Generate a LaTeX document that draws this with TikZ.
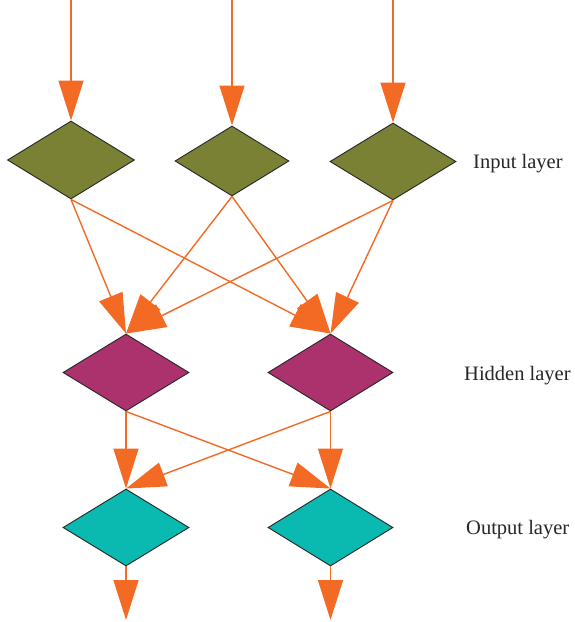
\documentclass[tikz,border=0pt]{standalone}
\usepackage{fontspec}
\setmainfont{Liberation Serif}
\usetikzlibrary{shapes.geometric,arrows.meta}
\definecolor{olivec}{RGB}{122,128,52}
\definecolor{magc}{RGB}{172,50,110}
\definecolor{tealc}{RGB}{10,185,175}
\definecolor{orc}{RGB}{242,106,36}
\begin{document}
\begin{tikzpicture}[x=1pt,y=-1pt,
  dia/.style={diamond,draw=black!85,line width=0.9pt,inner sep=0pt},
  arr/.style={draw=orc,line width=1.4pt,-{Triangle[length=40pt,width=25pt]}},
  lbl/.style={font=\fontsize{20.5pt}{24pt}\selectfont,text=black!85,inner sep=0pt}]
\useasboundingbox (0,0) rectangle (575,622);
\node[dia,fill=olivec,minimum width=127pt,minimum height=78pt] (d1) at (71,160) {};
\node[dia,fill=olivec,minimum width=114pt,minimum height=70pt] (d2) at (232,161) {};
\node[dia,fill=olivec,minimum width=126pt,minimum height=77pt] (d3) at (393,161.5) {};
\node[dia,fill=magc,minimum width=126pt,minimum height=77pt] (h1) at (126,372.5) {};
\node[dia,fill=magc,minimum width=125pt,minimum height=77pt] (h2) at (330.5,372.5) {};
\node[dia,fill=tealc,minimum width=126pt,minimum height=77pt] (o1) at (126,527.5) {};
\node[dia,fill=tealc,minimum width=125pt,minimum height=77pt] (o2) at (330.5,527.5) {};
\coordinate (s1) at (71,0);
\coordinate (s2) at (232,0);
\coordinate (s3) at (393,0);
\coordinate (e1) at (126,620);
\coordinate (e2) at (330.5,620);
\draw[arr] (s1) -- (d1.north);
\draw[arr] (s2) -- (d2.north);
\draw[arr] (s3) -- (d3.north);
\foreach \a in {d1,d2,d3}{
  \draw[arr] (\a.south) -- (h1.north);
  \draw[arr] (\a.south) -- (h2.north);
}
\draw[arr] (h1.south) -- (o1.north);
\draw[arr] (h1.south) -- (o2.north);
\draw[arr] (h2.south) -- (o1.north);
\draw[arr] (h2.south) -- (o2.north);
\draw[arr] (o1.south) -- (e1);
\draw[arr] (o2.south) -- (e2);
\node[lbl,anchor=base west] (l1) at (473,168.5) {Input layer};
\node[lbl,anchor=base west] (l2) at (464,380) {Hidden layer};
\node[lbl,anchor=base west] (l3) at (466,534.5) {Output layer};
\end{tikzpicture}
\end{document}
